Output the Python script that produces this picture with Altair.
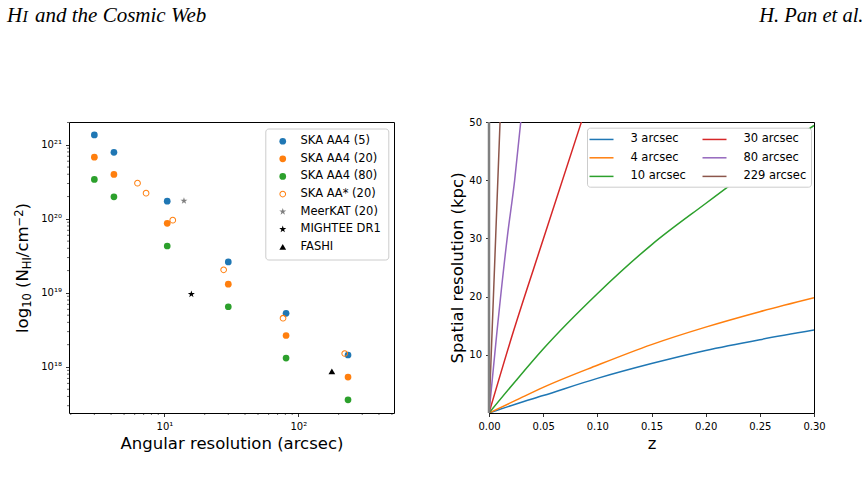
import altair as alt
import pandas as pd

FONT = "DejaVu Sans"
SERIF = "Liberation Serif"

# ---------------- left panel: N_HI sensitivity vs. angular resolution ----------------
series_order = ["SKA AA4 (5)", "SKA AA4 (20)", "SKA AA4 (80)", "SKA AA* (20)",
                "MeerKAT (20)", "MIGHTEE DR1", "FASHI"]

aa4_beam = [3.0, 4.2, 10.5, 30.0, 81.0, 235.0]
aa4_5 = [1.36e21, 7.9e20, 1.73e20, 2.62e19, 5.3e18, 1.45e18]
aa4_20 = [6.8e20, 3.98e20, 8.7e19, 1.31e19, 2.66e18, 7.3e17]
aa4_80 = [3.4e20, 1.98e20, 4.3e19, 6.5e18, 1.32e18, 3.6e17]
aastar_beam = [6.3, 7.3, 11.55, 27.7, 76.9, 222.0]
aastar_20 = [3.03e20, 2.22e20, 9.6e19, 2.05e19, 4.55e18, 1.52e18]
meerkat_beam = [14.0]
meerkat_nhi = [1.75e20]
mightee_beam = [15.9]
mightee_nhi = [9.6e18]
fashi_beam = [178.0]
fashi_nhi = [8.7e17]

groups = [
    ("SKA AA4 (5)", aa4_beam, aa4_5),
    ("SKA AA4 (20)", aa4_beam, aa4_20),
    ("SKA AA4 (80)", aa4_beam, aa4_80),
    ("SKA AA* (20)", aastar_beam, aastar_20),
    ("MeerKAT (20)", meerkat_beam, meerkat_nhi),
    ("MIGHTEE DR1", mightee_beam, mightee_nhi),
    ("FASHI", fashi_beam, fashi_nhi),
]
points = pd.DataFrame(
    [{"series": s, "beam": b, "nhi": n} for s, bs, ns in groups for b, n in zip(bs, ns)]
)

x_major = [10, 100]
x_minor = [2, 3, 4, 5, 6, 7, 8, 9, 20, 30, 40, 50, 60, 70, 80, 90, 200, 300, 400, 500]
y_major = [1e18, 1e19, 1e20, 1e21]
y_minor = [3e17, 4e17, 5e17, 6e17, 7e17, 8e17, 9e17,
           2e18, 3e18, 4e18, 5e18, 6e18, 7e18, 8e18, 9e18,
           2e19, 3e19, 4e19, 5e19, 6e19, 7e19, 8e19, 9e19,
           2e20, 3e20, 4e20, 5e20, 6e20, 7e20, 8e20, 9e20, 2e21]

# ---------------- right panel: physical resolution vs redshift ----------------
beam_order = ["3", "4", "10", "30", "80", "229"]
z_smooth = [0, 0.025, 0.05, 0.10, 0.15, 0.20, 0.25, 0.30]
kpc_3 = [0, 1.55, 3.0, 5.95, 8.5, 10.75, 12.6, 14.25]
kpc_4 = [0, 2.2, 4.4, 8.2, 11.75, 14.75, 17.4, 19.8]
kpc_10 = [0, 5.6, 11.0, 20.5, 28.9, 36.0, 42.9, 49.4]
z_30 = [0, 0.0225, 0.05, 0.0853]
kpc_30 = [0, 14.0, 29.8, 50.0]
z_80 = [0, 0.0071, 0.017, 0.0237, 0.0293]
kpc_80 = [0, 13.5, 30.4, 40.0, 50.0]
z_229 = [0, 0.0062, 0.0102]
kpc_229 = [0, 30.4, 50.0]

curves = [("3", z_smooth, kpc_3), ("4", z_smooth, kpc_4), ("10", z_smooth, kpc_10),
          ("30", z_30, kpc_30), ("80", z_80, kpc_80), ("229", z_229, kpc_229)]
lines = pd.DataFrame(
    [{"beam": b, "z": z, "kpc": k} for b, zs, ks in curves for z, k in zip(zs, ks)]
)

# ---------------- layout ----------------
W, H = 325, 291
LX, TY = 68, 121          # page position of the left plot area
RX = 488                  # page position of the right plot area

TAB = {"blue": "#1f77b4", "orange": "#ff7f0e", "green": "#2ca02c", "red": "#d62728",
       "purple": "#9467bd", "brown": "#8c564b", "gray": "#7f7f7f"}
# marker outlines in the unit box used by Vega custom symbols
STAR = ("M0,-1.1L0.247,-0.34L1.046,-0.34L0.4,0.13L0.647,0.89L0,0.42"
        "L-0.647,0.89L-0.4,0.13L-1.046,-0.34L-0.247,-0.34Z")
RING = ("M-1,0A1,1 0 1,0 1,0A1,1 0 1,0 -1,0Z"
        "M-0.7,0A0.7,0.7 0 1,1 0.7,0A0.7,0.7 0 1,1 -0.7,0Z")
DASH = "M-2,0L2,0"

axis_style = dict(grid=False, domain=False, tickColor="black", tickWidth=0.8,
                  tickSize=3.5, labelColor="black", labelFont=FONT, labelFontSize=10,
                  titleFont=FONT, titleFontSize=16.5, titleFontWeight="normal",
                  titleColor="black", labelFlush=False, labelOverlap=False)

one = pd.DataFrame({"k": [0]})


def text_piece(text, x, y, size, font=FONT, angle=0, align="left", style="normal"):
    return alt.Chart(one).mark_text(
        text=text, fontSize=size, font=font, angle=angle, align=align,
        baseline="alphabetic", color="black", fontStyle=style,
    ).encode(x=alt.value(x), y=alt.value(y))


left_x = alt.Scale(type="log", domain=[1.94, 518], nice=False)
left_y = alt.Scale(type="log", domain=[2.39e17, 2.03e21], nice=False)

left_x_axis = alt.Axis(values=x_major, labelPadding=5, titlePadding=3.5,
                       labelExpr="datum.value < 50 ? '10\u00b9' : '10\u00b2'",
                       title="Angular resolution (arcsec)", **axis_style)
left_y_axis = alt.Axis(values=y_major, labelPadding=4, title=None,
                       labelExpr="datum.value > 5e20 ? '10\u00b2\u00b9' : datum.value > 5e19 ? '10\u00b2\u2070' : datum.value > 5e18 ? '10\u00b9\u2079' : '10\u00b9\u2078'",
                       **axis_style)

legend_left = alt.Legend(
    title=None, orient="none", legendX=196.3, legendY=6.5, fillColor="white",
    strokeColor="#cccccc", cornerRadius=3, padding=7, labelFont=FONT,
    labelFontSize=11.5, labelColor="black", symbolSize=45, symbolStrokeWidth=0,
    symbolOffset=4.7, labelOffset=12, rowPadding=4.6,
)

pts = alt.Chart(points).mark_point(filled=True, opacity=1, size=45, strokeWidth=0).encode(
    x=alt.X("beam:Q", scale=left_x, axis=left_x_axis),
    y=alt.Y("nhi:Q", scale=left_y, axis=left_y_axis),
    color=alt.Color("series:N", legend=legend_left, scale=alt.Scale(
        domain=series_order,
        range=[TAB["blue"], TAB["orange"], TAB["green"], TAB["orange"],
               TAB["gray"], "black", "black"])),
    shape=alt.Shape("series:N", legend=legend_left, scale=alt.Scale(
        domain=series_order,
        range=["circle", "circle", "circle", RING, STAR, STAR, "triangle-up"])),
)

# minor log ticks, drawn through the same scales
minor_y = alt.Chart(pd.DataFrame({"nhi": y_minor})).mark_rule(
    color="black", strokeWidth=0.6).encode(
    y=alt.Y("nhi:Q", scale=left_y, axis=left_y_axis), x=alt.value(0), x2=alt.value(-2))
minor_x = alt.Chart(pd.DataFrame({"beam": x_minor})).mark_rule(
    color="black", strokeWidth=0.6).encode(
    x=alt.X("beam:Q", scale=left_x, axis=left_x_axis), y=alt.value(H), y2=alt.value(H + 2))

# rotated y title: log10 (N_HI / cm^-2), built from pieces
BASE = -41.5
ytitle = [
    text_piece("log", BASE, 211, 16.5, angle=270),
    text_piece("10", BASE + 3.5, 185.85, 11.5, angle=270),
    text_piece("(", BASE, 165.98, 16.5, angle=270),
    text_piece("N", BASE, 159.54, 16.5, angle=270),
    text_piece("HI", BASE + 3.5, 147.2, 11.5, angle=270),
    text_piece("/cm", BASE, 135.16, 16.5, angle=270),
    text_piece("\u22122", BASE - 5, 104.46, 11.5, angle=270),
    text_piece(")", BASE, 87.51, 16.5, angle=270),
]

# running page header
header_left = [
    text_piece("H", 6 - LX, 20.7 - TY, 21, font=SERIF, style="italic"),
    text_piece("I", 21.5 - LX, 20.7 - TY, 16, font=SERIF, style="italic"),
    text_piece("and the Cosmic Web", 34 - LX, 20.7 - TY, 21, font=SERIF, style="italic"),
]
corner = alt.Chart(one).mark_rect(opacity=0).encode(
    x=alt.value(-LX), x2=alt.value(-LX + 1), y=alt.value(-TY), y2=alt.value(-TY + 1))

left = alt.layer(pts, minor_y, minor_x, *ytitle, *header_left, corner).properties(
    width=W, height=H)

# ---------------- right chart ----------------
legend_right = alt.Legend(
    title=None, orient="none", legendX=98, legendY=5.7, columns=2,
    symbolType=DASH, symbolSize=144, symbolStrokeWidth=1.5,
    labelExpr="(length(datum.label) == 1 ? '\u2007' : length(datum.label) == 2 ? '\u00a0' : '') + datum.label + ' arcsec'",
    fillColor="white", strokeColor="#cccccc", cornerRadius=3, padding=4.5,
    labelFont=FONT, labelFontSize=11.5, labelColor="black",
    symbolOffset=3.0, labelOffset=21.9, columnPadding=13, rowPadding=5.6,
)

rx = alt.Scale(domain=[0, 0.3], nice=False, zero=False)
ry = alt.Scale(domain=[0, 50], nice=False)

curves_chart = alt.Chart(lines).mark_line(
    strokeWidth=1.5, clip=True, interpolate="monotone").encode(
    x=alt.X("z:Q", scale=rx,
            axis=alt.Axis(values=[0, 0.05, 0.1, 0.15, 0.2, 0.25, 0.3], format=".2f",
                          labelPadding=5, titlePadding=3.5, title="z", **axis_style)),
    y=alt.Y("kpc:Q", scale=ry,
            axis=alt.Axis(values=[10, 20, 30, 40, 50], labelPadding=4, titlePadding=3.4,
                          title="Spatial resolution (kpc)", **axis_style)),
    color=alt.Color("beam:N", legend=legend_right,
                    scale=alt.Scale(domain=beam_order,
                                    range=[TAB["blue"], TAB["orange"], TAB["green"],
                                           TAB["red"], TAB["purple"], TAB["brown"]])),
)
zero_line = alt.Chart(one).mark_rule(color="#808080", strokeWidth=2.5).encode(
    x=alt.datum(0, scale=rx))

header_right = text_piece("H. Pan et al.", 862.5 - RX, 20.7 - TY, 20.5,
                          font=SERIF, align="right", style="italic")

right = alt.layer(curves_chart, zero_line, header_right).properties(width=W, height=H)

chart = alt.hconcat(left, right, spacing=RX - LX - W, bounds="flush").properties(
    padding=0
).resolve_scale(
    color="independent", shape="independent"
).resolve_legend(
    color="independent", shape="independent"
).configure(
    font=FONT, view=alt.ViewConfig(stroke="black", strokeWidth=1)
)

chart.save("out.html", embed_options={"renderer": "svg", "actions": False})
